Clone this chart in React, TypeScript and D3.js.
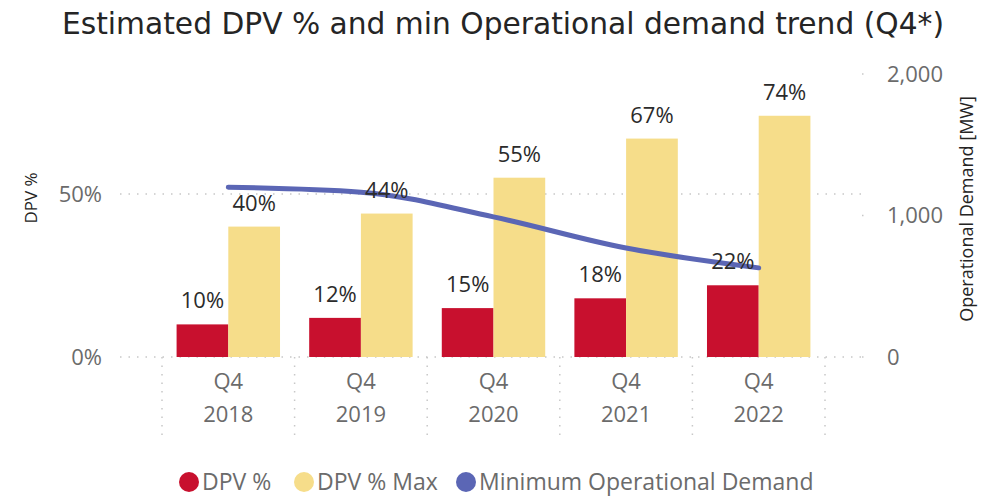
import React from "react";
import * as d3 from "d3";

const width = 989,
  height = 496;

const years = ["2018", "2019", "2020", "2021", "2022"];
const quarter = "Q4";
const dpv = [10, 12, 15, 18, 22];
const dpvMax = [40, 44, 55, 67, 74];
const minDemand = [1200, 1165, 990, 770, 630];
const leftTicks = [0, 50];
const rightTicks = [0, 1000, 2000];
const seriesNames = ["DPV %", "DPV % Max", "Minimum Operational Demand"];

const RED = "#c8102e";
const YELLOW = "#f6dd8a";
const BLUE = "#5b66b5";
const TICK = "#6b6b6b";
const FONT = "'Open Sans', 'Noto Sans', sans-serif";

// plot area
const baseY = 357;
const y = d3.scaleLinear().domain([0, 50]).range([baseY, 194]);
const yR = d3.scaleLinear().domain([0, 2000]).range([baseY, 74]);

const x = d3
  .scaleBand()
  .domain(years)
  .range([162, 825])
  .paddingInner(0.22)
  .paddingOuter(0.11);
const xSub = d3.scaleBand().domain(["dpv", "max"]).range([0, x.bandwidth()]);
const cx = (yr: string) => x(yr)! + x.bandwidth() / 2;

const line = d3
  .line<number>()
  .x((d, i) => cx(years[i]))
  .y((d) => yR(d))
  .curve(d3.curveMonotoneX);

function dots(x1: number, y1: number, x2: number, y2: number, key: string) {
  return (
    <line
      key={key}
      x1={x1}
      y1={y1}
      x2={x2}
      y2={y2}
      stroke="#c8c8c8"
      strokeWidth={1.5}
      strokeDasharray="1.5 7"
    />
  );
}

export default function App() {
  const legendColors = [RED, YELLOW, BLUE];
  const legendX = [189, 304, 466];
  const step = x.step();
  const separators = years.map((yr) => cx(yr) - step / 2).concat([cx(years[4]) + step / 2]);

  return (
    <svg
      width={width}
      height={height}
      style={{ position: "absolute", left: 0, top: 0, background: "#fff" }}
      fontFamily={FONT}
    >
      {/* Title */}
      <text
        x={503}
        y={34}
        textAnchor="middle"
        fontSize={30}
        fontFamily="'DejaVu Sans Condensed', 'DejaVu Sans', sans-serif"
        fill="#252525"
        textLength={882}
        lengthAdjust="spacingAndGlyphs"
      >
        Estimated DPV % and min Operational demand trend (Q4*)
      </text>

      {/* grid lines */}
      {leftTicks.map((t) => dots(120, y(t), 866, y(t), "g" + t))}
      {rightTicks.map((t) => dots(862, yR(t), 868, yR(t), "r" + t))}

      {/* category separators */}
      {separators.map((xv, i) => dots(xv, baseY, xv, 442, "s" + i))}

      {/* left axis */}
      {leftTicks.map((t) => (
        <text
          key={t}
          x={102}
          y={y(t)}
          dy="0.35em"
          textAnchor="end"
          fontSize={22}
          fill={TICK}
        >
          {t}%
        </text>
      ))}
      <text
        transform={`translate(31,198) rotate(-90)`}
        textAnchor="middle"
        fontSize={17}
        fill="#252423"
        dy="0.35em"
      >
        DPV %
      </text>

      {/* right axis */}
      {rightTicks.map((t) => (
        <text key={t} x={887} y={yR(t)} dy="0.35em" fontSize={22} fill={TICK}>
          {d3.format(",")(t)}
        </text>
      ))}
      <text
        transform={`translate(967,209) rotate(-90)`}
        textAnchor="middle"
        fontSize={18}
        fill="#252423"
        dy="0.35em"
      >
        Operational Demand [MW]
      </text>

      {/* x axis labels */}
      {years.map((yr) => (
        <g key={yr} fontSize={22} fill={TICK} textAnchor="middle">
          <text x={cx(yr)} y={389}>
            {quarter}
          </text>
          <text x={cx(yr)} y={422}>
            {yr}
          </text>
        </g>
      ))}

      {/* bars */}
      {years.map((yr, i) => (
        <g key={yr} transform={`translate(${x(yr)},0)`}>
          <rect
            x={xSub("dpv")}
            y={y(dpv[i])}
            width={xSub.bandwidth()}
            height={baseY - y(dpv[i])}
            fill={RED}
          />
          <rect
            x={xSub("max")}
            y={y(dpvMax[i])}
            width={xSub.bandwidth()}
            height={baseY - y(dpvMax[i])}
            fill={YELLOW}
          />
        </g>
      ))}

      {/* line */}
      <path
        d={line(minDemand) || ""}
        fill="none"
        stroke={BLUE}
        strokeWidth={5}
        strokeLinecap="round"
      />

      {/* data labels */}
      {years.map((yr, i) => (
        <g key={yr} fontSize={22} fill="#2b2b2b" textAnchor="middle">
          <text x={x(yr)! + xSub("dpv")! + xSub.bandwidth() / 2} y={y(dpv[i]) - 16}>
            {dpv[i]}%
          </text>
          <text x={x(yr)! + xSub("max")! + xSub.bandwidth() / 2} y={y(dpvMax[i]) - 16}>
            {dpvMax[i]}%
          </text>
        </g>
      ))}

      {/* legend */}
      {seriesNames.map((name, i) => (
        <g key={name}>
          <circle cx={legendX[i]} cy={482} r={10} fill={legendColors[i]} />
          <text x={legendX[i] + 13} y={482} dy="0.35em" fontSize={23} fill={TICK}>
            {name}
          </text>
        </g>
      ))}
    </svg>
  );
}
